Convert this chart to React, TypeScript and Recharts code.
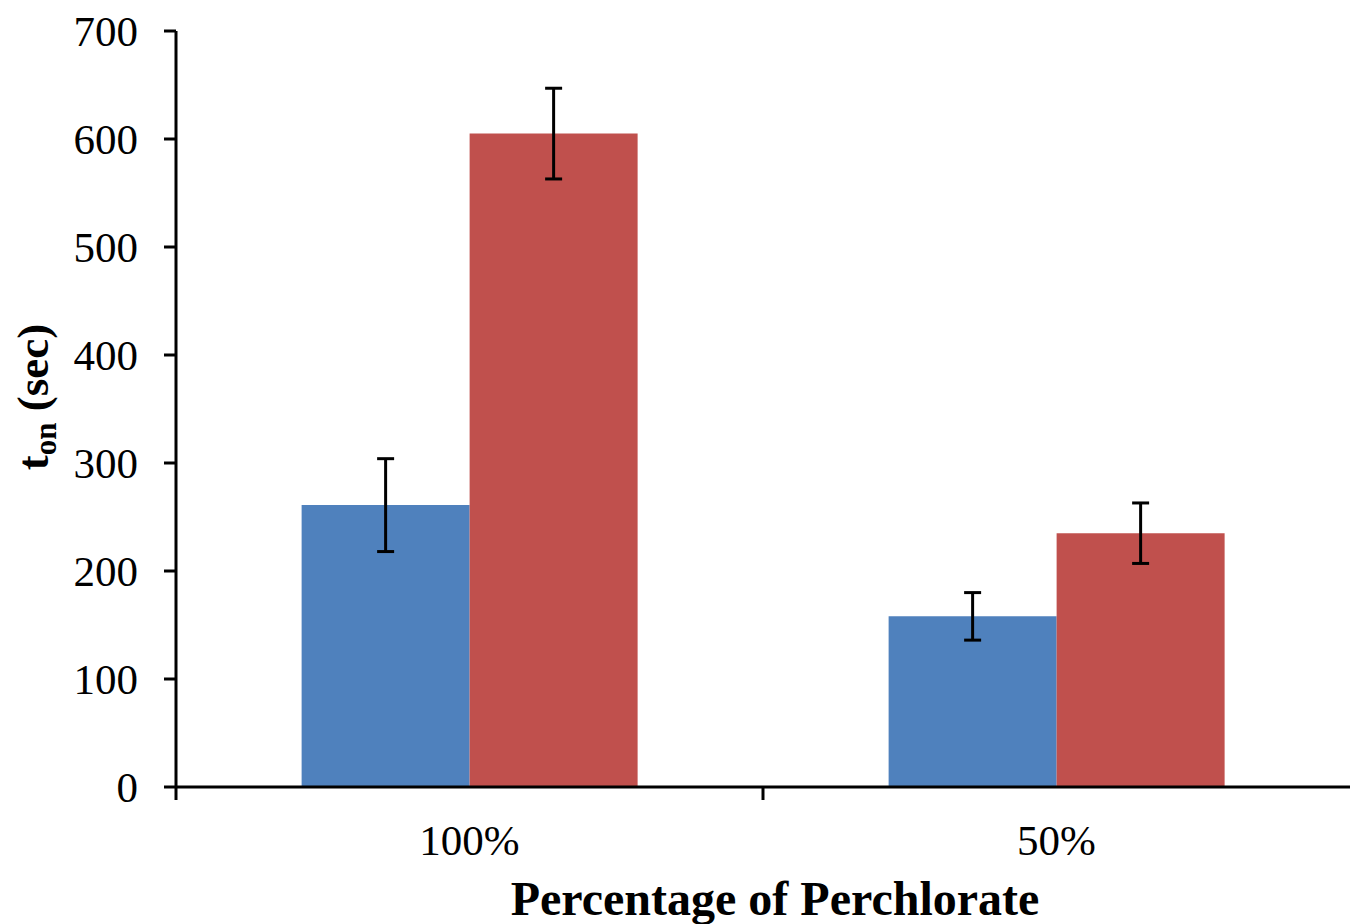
import { BarChart, Bar, XAxis, YAxis, ErrorBar, Label } from 'recharts';

const categories = ['100%', '50%'];
const blueValues = [261, 158];
const blueErrors = [43, 22];
const redValues = [605, 235];
const redErrors = [42, 28];
const yTicks = [0, 100, 200, 300, 400, 500, 600, 700];

const data = categories.map((name, i) => ({
  name,
  blue: blueValues[i],
  blueErr: blueErrors[i],
  red: redValues[i],
  redErr: redErrors[i],
}));

const FONT = '"Liberation Serif", serif';

// category ticks sit on the band boundaries, labels in the middle
const XTick = (props: any) => {
  const { x, y, payload } = props;
  const off = payload.offset || 0;
  return (
    <g>
      <line x1={x - off} x2={x - off} y1={y} y2={y + 13} stroke="#000" strokeWidth={3} />
      <text x={x} y={y + 68} textAnchor="middle" fontFamily={FONT} fontSize={43} fill="#000">
        {payload.value}
      </text>
    </g>
  );
};

const YLabel = (props: any) => {
  const { viewBox } = props;
  const cy = viewBox.y + viewBox.height / 2 - 12;
  const cx = 48;
  return (
    <text
      x={cx}
      y={cy}
      transform={`rotate(-90, ${cx}, ${cy})`}
      textAnchor="middle"
      fontFamily={FONT}
      fontWeight="bold"
      fontSize={45}
      fill="#000"
    >
      t<tspan fontSize={31} dy={8}>on</tspan>
      <tspan dy={-8}> (sec)</tspan>
    </text>
  );
};

const XLabel = (props: any) => {
  const { viewBox } = props;
  return (
    <text
      x={775}
      y={viewBox.y + 128}
      textAnchor="middle"
      fontFamily={FONT}
      fontWeight="bold"
      fontSize={48}
      fill="#000"
    >
      Percentage of Perchlorate
    </text>
  );
};

export default function App() {
  return (
    <div style={{ position: 'absolute', left: 0, top: 0, width: 1350, height: 924, background: '#fff' }}>
      <BarChart
        width={1350}
        height={924}
        data={data}
        margin={{ top: 31, right: 0, left: 0, bottom: 0 }}
        barCategoryGap="21.4%"
        barGap={0}
      >
        <XAxis
          dataKey="name"
          height={137}
          axisLine={{ stroke: '#000', strokeWidth: 3 }}
          tickLine={false}
          tickSize={0}
          tickMargin={0}
          tick={<XTick />}
          interval={0}
        >
          <Label content={<XLabel />} />
        </XAxis>
        <YAxis
          width={176}
          domain={[0, 700]}
          ticks={yTicks}
          interval={0}
          axisLine={{ stroke: '#000', strokeWidth: 3 }}
          tickLine={{ stroke: '#000', strokeWidth: 3 }}
          tickSize={12}
          tickMargin={26}
          tick={{ fill: '#000', fontFamily: FONT, fontSize: 43 }}
        >
          <Label content={<YLabel />} />
        </YAxis>
        <Bar dataKey="blue" fill="#4F81BD" isAnimationActive={false}>
          <ErrorBar dataKey="blueErr" width={8.5} stroke="#000" strokeWidth={3} />
        </Bar>
        <Bar dataKey="red" fill="#C0504D" isAnimationActive={false}>
          <ErrorBar dataKey="redErr" width={8.5} stroke="#000" strokeWidth={3} />
        </Bar>
      </BarChart>
    </div>
  );
}
